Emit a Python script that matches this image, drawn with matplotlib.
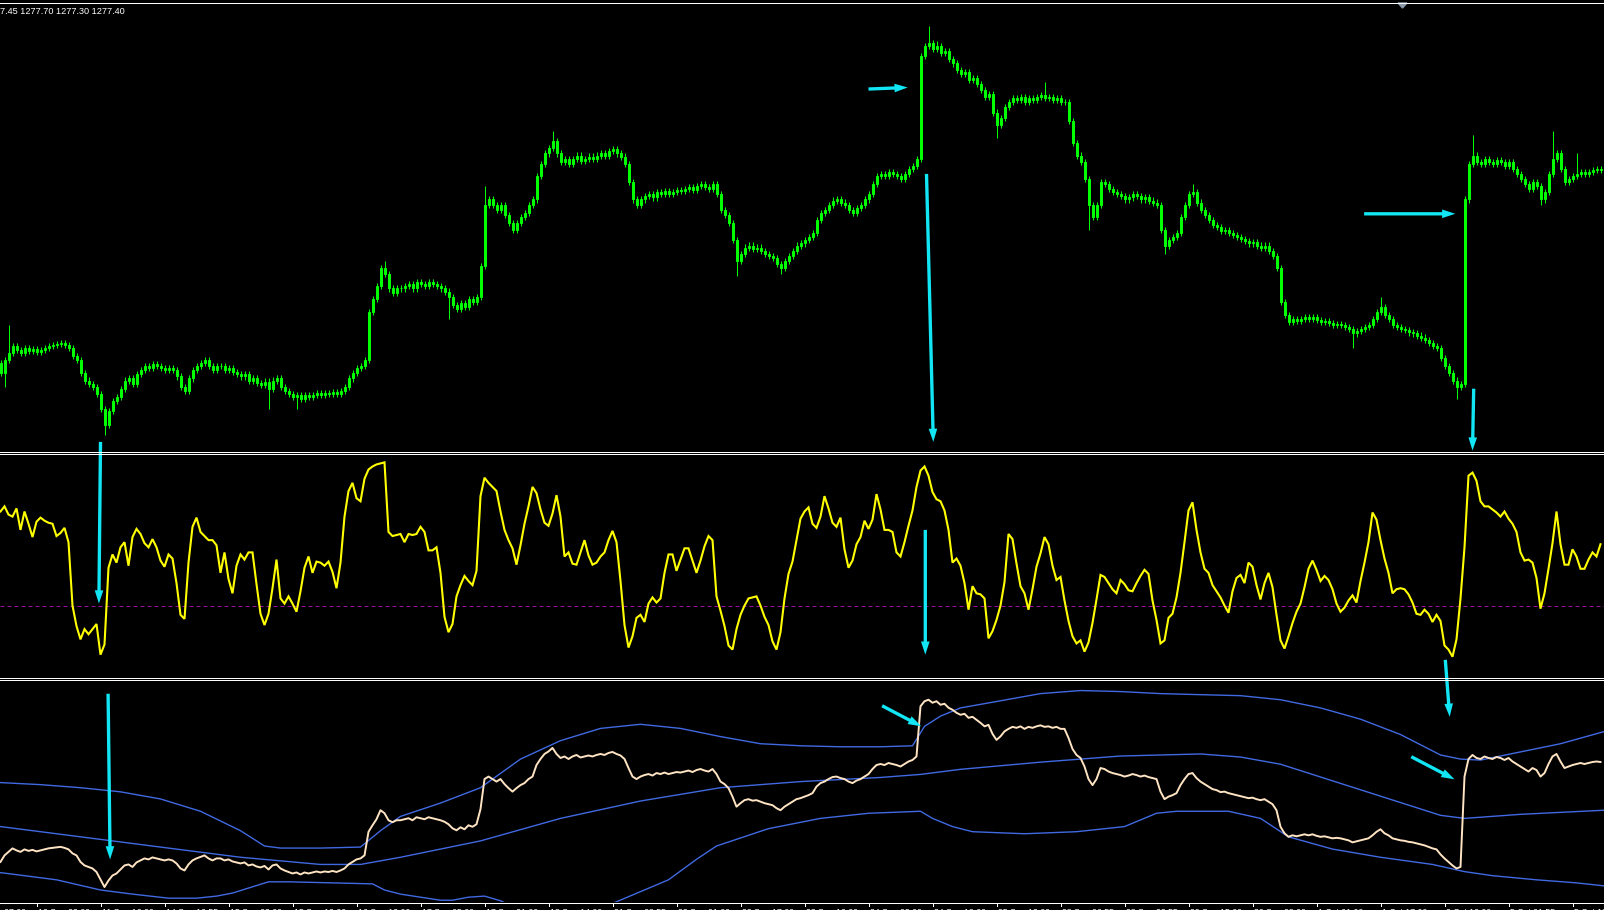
import matplotlib
matplotlib.use("Agg")
import matplotlib.pyplot as plt
from matplotlib.lines import Line2D
from matplotlib.patches import Polygon
from matplotlib import transforms
import numpy as np

W, H, DPI = 1604, 910, 100

# ---------------- data (H1 bars) ----------------
first_open = 1258.5
closes = [
    1257.5, 1258.8, 1259.5, 1260.2, 1259.8, 1259.5, 1260.0, 1259.7, 1259.9, 1259.6,
    1259.8, 1260.0, 1260.2, 1260.3, 1260.4, 1260.5, 1260.3, 1260.0, 1259.2, 1258.8,
    1257.5, 1256.8, 1256.5, 1256.2, 1255.5, 1254.0, 1252.5, 1253.8, 1254.8, 1255.2,
    1256.0, 1256.8, 1257.0, 1256.5, 1257.4, 1257.8, 1258.2, 1258.0, 1258.4, 1258.2,
    1258.0, 1257.8, 1258.0, 1257.8, 1257.2, 1256.2, 1255.8, 1257.0, 1257.8, 1258.2,
    1258.5, 1258.8, 1258.2, 1257.8, 1258.2, 1258.2, 1257.8, 1258.0, 1257.6, 1257.4,
    1257.2, 1257.4, 1256.8, 1257.0, 1256.6, 1256.4, 1256.7, 1256.0, 1256.8, 1257.0,
    1256.2, 1255.8, 1255.5, 1255.2, 1255.4, 1255.0, 1255.4, 1255.2, 1255.4, 1255.6,
    1255.4, 1255.6, 1255.5, 1255.7, 1255.5, 1255.8, 1256.2, 1257.0, 1257.5, 1258.0,
    1258.2, 1258.8, 1263.5, 1264.8, 1266.0, 1267.8, 1267.2, 1265.8, 1265.4, 1265.8,
    1265.8, 1266.0, 1266.2, 1265.8, 1266.4, 1266.2, 1266.0, 1266.4, 1266.2, 1266.0,
    1265.8, 1265.5, 1265.0, 1264.2, 1263.8, 1264.4, 1264.0, 1264.8, 1264.5, 1265.0,
    1268.0, 1274.0, 1274.5, 1274.0, 1273.5, 1274.0, 1273.0, 1272.2, 1271.5, 1272.2,
    1272.8, 1273.2, 1274.0, 1274.5, 1276.8, 1278.0, 1279.0, 1279.5, 1280.2, 1279.0,
    1278.2, 1278.5, 1278.0, 1278.5, 1278.8, 1278.3, 1278.5, 1278.7, 1278.5, 1278.8,
    1279.0, 1278.8, 1279.2, 1279.4, 1279.0, 1278.7, 1278.0, 1276.2, 1274.5, 1274.0,
    1274.5, 1274.8, 1275.0, 1274.7, 1275.2, 1275.0, 1275.3, 1275.0, 1275.2, 1275.4,
    1275.3, 1275.5, 1275.7, 1275.4, 1275.8, 1276.0, 1275.7, 1275.5, 1276.0, 1275.0,
    1273.5, 1273.0, 1272.2, 1270.5, 1268.5, 1269.2, 1269.8, 1270.0, 1269.7, 1269.8,
    1269.5, 1269.2, 1269.0, 1268.8, 1268.2, 1267.8, 1268.5, 1269.0, 1269.5, 1270.0,
    1270.2, 1270.5, 1270.8, 1271.2, 1272.5, 1273.2, 1273.5, 1274.0, 1274.4, 1274.5,
    1274.2, 1274.0, 1273.5, 1273.2, 1273.7, 1274.0, 1274.5, 1275.0, 1276.0, 1276.8,
    1277.0, 1276.8, 1277.2, 1277.0, 1276.8, 1276.5, 1277.0, 1277.5, 1277.8, 1278.5,
    1288.5, 1289.5, 1289.8, 1289.2, 1289.5, 1288.8, 1289.0, 1288.2, 1287.8, 1287.2,
    1286.8, 1287.0, 1286.2, 1286.4, 1285.8, 1285.2, 1284.5, 1284.8, 1283.0, 1281.8,
    1282.5, 1283.5, 1284.0, 1284.4, 1284.2, 1284.5, 1284.0, 1284.4, 1284.2, 1284.5,
    1284.7, 1284.4, 1284.5, 1284.2, 1284.4, 1284.0, 1284.0, 1282.2, 1280.0, 1278.8,
    1278.2, 1276.5, 1274.0, 1272.8, 1274.0, 1276.2, 1276.0, 1275.5, 1275.2, 1275.0,
    1274.8, 1274.5, 1274.7, 1275.0, 1274.8, 1274.5, 1274.7, 1274.4, 1274.2, 1274.0,
    1271.5, 1270.0, 1270.5, 1270.8, 1271.2, 1272.8, 1274.0, 1275.0, 1275.2, 1274.2,
    1273.5, 1273.0, 1272.5, 1272.0, 1271.8, 1271.4, 1271.5, 1271.2, 1271.0, 1270.8,
    1270.6, 1270.4, 1270.2, 1270.3, 1270.0, 1269.8, 1270.0, 1269.5, 1269.0, 1267.8,
    1264.5, 1263.2, 1262.5, 1262.8, 1262.6, 1262.8, 1263.0, 1262.8, 1263.0, 1262.7,
    1262.5, 1262.6, 1262.4, 1262.2, 1262.3, 1262.2, 1262.0, 1261.8, 1261.4, 1261.6,
    1261.8, 1262.0, 1262.2, 1262.8, 1263.5, 1264.0, 1263.2, 1262.8, 1262.2, 1262.0,
    1261.8, 1261.7, 1261.5, 1261.4, 1261.2, 1261.0, 1260.8, 1260.5, 1260.2, 1260.0,
    1259.0, 1258.2, 1257.5, 1256.8, 1256.2, 1256.5, 1274.5, 1278.0, 1278.8, 1278.2,
    1278.0, 1278.5, 1278.2, 1278.0, 1278.4, 1278.2, 1277.8, 1278.2, 1277.5, 1277.0,
    1276.5, 1276.0, 1275.5, 1276.2, 1275.8, 1274.5, 1275.2, 1277.0, 1278.5, 1279.0,
    1277.5, 1276.2, 1276.5, 1276.8, 1277.0, 1277.2, 1277.0, 1277.2, 1277.4, 1277.5,
    1277.4,
]
wick_ext = 0.3
notable_highs = {2: 1262.2, 96: 1268.5, 121: 1275.8, 138: 1281.2, 232: 1291.5,
                 234: 1290.0, 261: 1286.0, 298: 1276.0, 345: 1265.0, 368: 1280.8,
                 388: 1281.2, 394: 1279.0}
notable_lows = {1: 1256.2, 26: 1251.5, 67: 1254.0, 74: 1254.0, 112: 1262.8,
                184: 1267.0, 195: 1267.2, 249: 1280.5, 272: 1271.5, 291: 1269.2,
                338: 1260.0, 364: 1255.0, 385: 1274.0}

osc = [
    92, 97, 89, 87, 95, 74, 92, 80, 67, 82,
    86, 83, 81, 80, 68, 71, 76, 62, 0, -20,
    -33, -23, -28, -23, -18, -48, -38, 37, 50, 42,
    57, 62, 39, 67, 75, 70, 61, 57, 65, 57,
    44, 38, 50, 46, 22, -9, -13, 42, 77, 86,
    72, 68, 64, 64, 59, 32, 52, 26, 12, 39,
    50, 45, 52, 52, 21, -8, -19, -8, 17, 45,
    7, 2, 9, 2, -6, 14, 37, 48, 32, 43,
    42, 39, 43, 33, 17, 42, 87, 112, 120, 105,
    102, 124, 133, 136, 138, 139, 140, 72, 68, 69,
    70, 62, 70, 69, 70, 77, 72, 54, 54, 57,
    32, -11, -26, -18, 9, 20, 29, 24, 20, 34,
    107, 125, 120, 116, 112, 92, 74, 64, 56, 40,
    59, 80, 97, 116, 110, 94, 81, 78, 90, 108,
    87, 48, 52, 41, 40, 52, 64, 49, 40, 42,
    48, 52, 64, 73, 62, 24, -19, -41, -30, -12,
    -9, -16, 2, 8, 3, 7, 32, 50, 50, 34,
    45, 56, 56, 44, 32, 44, 58, 68, 64, 9,
    -5, -20, -39, -43, -23, -9, 0, 7, 8, 9,
    0, -11, -19, -35, -43, -26, 7, 31, 43, 64,
    85, 92, 96, 80, 76, 87, 107, 95, 81, 77,
    86, 55, 37, 44, 60, 67, 83, 75, 84, 109,
    94, 74, 74, 72, 52, 48, 62, 78, 93, 116,
    132, 136, 127, 111, 104, 102, 93, 74, 42, 46,
    39, 22, -4, 19, 12, 11, 7, -32, -25, -14,
    0, 23, 70, 65, 41, 19, 12, -4, 16, 38,
    51, 67, 60, 39, 25, 28, 5, -15, -30, -37,
    -34, -45, -36, -17, 6, 30, 28, 22, 16, 12,
    25, 21, 15, 14, 22, 29, 35, 31, 5, -14,
    -37, -34, -12, -8, 8, 32, 62, 93, 101, 74,
    52, 36, 32, 20, 14, 8, 0, -7, 14, 27,
    30, 22, 42, 38, 20, 6, 22, 32, 18, -9,
    -34, -42, -30, -17, -6, 2, 18, 36, 44, 35,
    24, 29, 25, 16, 2, -6, -2, 5, 10, 3,
    24, 42, 62, 91, 84, 64, 46, 32, 12, 16,
    17, 16, 11, 3, -8, -9, -4, -8, -16, -9,
    -15, -39, -43, -50, -33, 7, 57, 127, 130, 122,
    102, 97, 97, 94, 91, 87, 92, 85, 80, 72,
    52, 44, 45, 42, 27, -3, 12, 36, 61, 92,
    60, 40, 40, 55, 48, 36, 36, 45, 52, 48,
    60,
]
osc_level = 0

upper_bars = [0, 10, 20, 30, 40, 50, 60, 66, 70, 80, 90, 95, 100, 110, 120, 130, 140,
              150, 160, 170, 180, 190, 200, 210, 220, 228, 231, 235, 240, 250, 260,
              270, 280, 290, 300, 310, 320, 330, 340, 350, 360, 365, 370, 380, 390, 401]
upper_vals = [1273.30, 1272.89, 1272.28, 1271.46, 1270.04, 1267.59, 1263.72, 1260.67,
              1260.26, 1260.26, 1260.46, 1263.72, 1266.57, 1269.22, 1272.28, 1277.98,
              1281.65, 1284.09, 1284.91, 1284.09, 1282.46, 1281.04, 1280.63, 1280.43,
              1280.43, 1280.63, 1284.50, 1286.54, 1288.17, 1289.59, 1291.02, 1291.63,
              1291.43, 1291.02, 1290.81, 1290.61, 1289.80, 1288.17, 1285.93, 1282.87,
              1278.80, 1277.98, 1277.78, 1279.41, 1281.04, 1283.48]
middle_bars = [0, 20, 40, 60, 80, 90, 100, 120, 140, 160, 180, 200, 220, 230, 240,
               260, 280, 300, 310, 320, 340, 360, 366, 380, 401]
middle_vals = [1264.54, 1262.50, 1260.46, 1258.43, 1257.00, 1257.00, 1258.43, 1261.69,
               1266.17, 1269.63, 1272.28, 1273.50, 1274.32, 1274.93, 1275.94, 1277.37,
               1278.59, 1279.00, 1278.39, 1276.96, 1271.87, 1266.78, 1266.17, 1266.98,
               1267.80]
lower_bars = [0, 14, 25, 33, 42, 49, 54, 58, 67, 72, 83, 93, 96, 100, 105, 110, 113,
              117, 121, 125, 128, 135, 143, 151, 154, 167, 174, 179, 192, 205, 217,
              230, 233, 238, 243, 256, 269, 281, 289, 294, 307, 315, 322, 333, 345,
              358, 366, 373, 384, 394, 401]
lower_vals = [1255.37, 1253.94, 1251.91, 1251.09, 1250.28, 1250.28, 1250.69, 1251.30,
              1253.54, 1253.54, 1253.33, 1253.13, 1251.91, 1251.09, 1250.48, 1249.87,
              1249.87, 1250.48, 1250.69, 1249.77, 1248.65, 1245.80, 1245.80, 1248.65,
              1249.57, 1253.94, 1258.02, 1260.67, 1264.13, 1266.17, 1267.19, 1267.59,
              1266.17, 1264.54, 1263.52, 1263.11, 1263.52, 1264.54, 1267.19, 1267.59,
              1267.59, 1266.17, 1262.50, 1260.06, 1258.43, 1257.00, 1255.57, 1254.76,
              1253.94, 1253.33, 1252.72]

tick_bars = [-7, 9, 25, 41, 57, 73, 89, 105, 121, 137, 153, 169, 185, 201, 217, 233,
             249, 265, 281, 297, 313, 329, 345, 361, 377, 393]
tick_labels = ["10 Sep 07:00", "10 Sep 22:00", "11 Sep 16:00", "14 Sep 10:55",
               "15 Sep 03:00", "15 Sep 19:00", "16 Sep 12:00", "17 Sep 05:00",
               "17 Sep 21:00", "18 Sep 14:00", "21 Sep 08:55", "22 Sep 01:00",
               "22 Sep 17:00", "23 Sep 10:00", "24 Sep 03:00", "24 Sep 19:00",
               "25 Sep 12:00", "28 Sep 06:55", "28 Sep 22:55", "29 Sep 15:00",
               "30 Sep 08:00", "1 Oct 01:00", "1 Oct 17:00", "2 Oct 10:00",
               "5 Oct 01:55", "5 Oct 18:00"]
header_text = "7.45 1277.70 1277.30 1277.40"

# annotation arrows: (panel_from, (bar, value), panel_to, (bar, value))
arrows = [
    (0, (217.0, 1285.3), 0, (226.8, 1285.45)),
    (0, (231.5, 1277.0), 0, (233.2, 1250.8)),
    (0, (340.9, 1273.1), 0, (363.7, 1273.1)),
    (0, (368.3, 1256.0), 0, (368.0, 1249.95)),
    (0, (25.0, 1250.8), 1, (24.6, 2)),
    (1, (231.2, 74), 1, (231.2, -48)),
    (1, (361.2, -53), 2, (362.3, 1286.4)),
    (2, (26.9, 1291.0), 2, (27.4, 1258.0)),
    (2, (220.4, 1288.6), 2, (230.2, 1284.5)),
    (2, (352.7, 1278.45), 2, (363.5, 1273.95)),
]

# ---------------- styling ----------------
LIME = "#00FF00"
CYAN = "#12E6F4"
YELLOW = "#FFFF00"
CREAM = "#FFE4C4"
BLUE = "#4169E1"
FONT = "Liberation Sans"
PX = 72.0 / DPI  # one pixel in points

fig = plt.figure(figsize=(W / DPI, H / DPI), dpi=DPI, facecolor="black")


def fx(px):
    return px / W


def fy(py):
    return 1 - py / H


def panel(top, bottom, ylim):
    ax = fig.add_axes([0, fy(bottom), 1, (bottom - top) / H])
    ax.set_facecolor("none")
    ax.axis("off")
    ax.set_xlim(-0.125, -0.125 + W / 4.0)
    ax.set_ylim(*ylim)
    return ax


ax1 = panel(3, 451, (1249.91, 1293.71))
ax2 = panel(454, 677, (-69.8, 148.2))
ax3 = panel(680, 902, (1249.52, 1293.73))

# candles
c = np.array(closes)
n = len(c)
x = np.arange(n)
o = np.concatenate([[first_open], c[:-1]])
bhi = np.maximum(o, c)
blo = np.minimum(o, c)
hi = bhi + wick_ext
lo = blo - wick_ext
for k, v in notable_highs.items():
    hi[k] = v
for k, v in notable_lows.items():
    lo[k] = v
ax1.vlines(x, lo, hi, color=LIME, lw=PX)
bull = c > o
hgt = bhi - blo
ax1.bar(x[bull], hgt[bull], bottom=blo[bull], width=0.5, color="black",
        edgecolor=LIME, linewidth=PX)
ax1.bar(x[~bull], hgt[~bull], bottom=blo[~bull], width=0.5, color="white",
        edgecolor=LIME, linewidth=PX)

# oscillator
ax2.axhline(osc_level, color="#9A109A", lw=PX, dashes=(4, 3))
ax2.plot(np.arange(len(osc)), osc, color=YELLOW, lw=1.5, solid_joinstyle="miter")

# bands + close line
ax3.plot(upper_bars, upper_vals, color=BLUE, lw=1.0)
ax3.plot(middle_bars, middle_vals, color=BLUE, lw=1.0)
ax3.plot(lower_bars, lower_vals, color=BLUE, lw=1.0)
ax3.plot(x, c, color=CREAM, lw=1.4)

# separators
for row in (2, 451, 453, 677, 679, 902):
    fig.add_artist(Line2D([0, 1], [fy(row + 0.5)] * 2, color="white", lw=PX))

# time axis ticks and labels
blend = transforms.blended_transform_factory(ax3.transData, fig.transFigure)
for b, lab in zip(tick_bars, tick_labels):
    fig.add_artist(Line2D([b, b], [fy(903), fy(906)], color="white", lw=PX,
                          transform=blend))
    fig.text(b + 0.5, fy(908.0), lab, transform=blend, color="white",
             fontsize=6.3, family=FONT, ha="left", va="top")

# header
fig.text(fx(0), fy(6.5), header_text, color="white", fontsize=6.6, family=FONT,
         ha="left", va="top")

# chart shift marker
fig.add_artist(Polygon([[fx(1398), fy(3)], [fx(1407), fy(3)], [fx(1402.5), fy(8)]],
                       closed=True, color="#8A9AAB", transform=fig.transFigure))

# arrows
axes = [ax1, ax2, ax3]
for pf, tail, pt, head in arrows:
    ax3.annotate("", xy=head, xycoords=axes[pt].transData, xytext=tail,
                 textcoords=axes[pf].transData, annotation_clip=False,
                 arrowprops=dict(arrowstyle="simple,head_length=0.95,head_width=0.62,tail_width=0.24",
                                 color=CYAN, shrinkA=0, shrinkB=0, mutation_scale=10,
                                 lw=0),
                 zorder=10)

fig.savefig("out.png", dpi=DPI, facecolor="black")
